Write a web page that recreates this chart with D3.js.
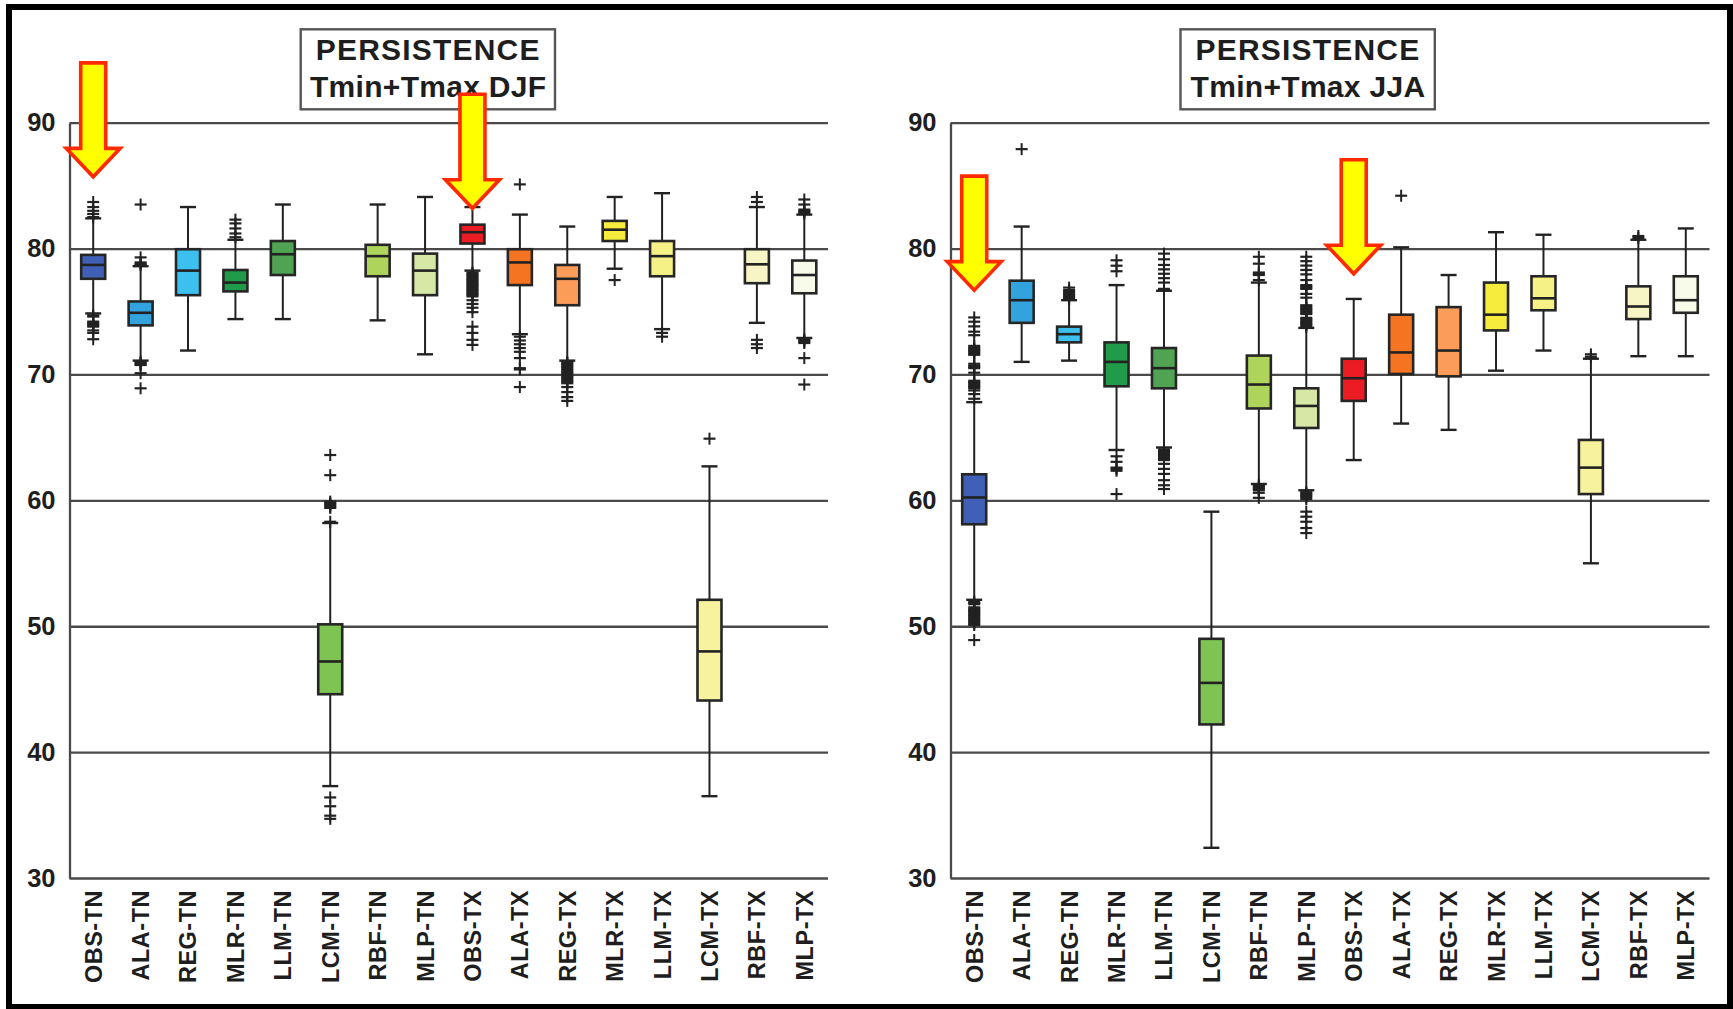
<!DOCTYPE html>
<html><head><meta charset="utf-8">
<script src="https://cdn.jsdelivr.net/npm/d3@7"></script>
<style>
html,body{margin:0;padding:0;background:#fff;}
svg{display:block;}
text{font-family:"Liberation Sans",Arial,sans-serif;font-weight:bold;fill:#1e1e1e;}
</style></head>
<body>
<svg id="chart" width="1733" height="1009"></svg>
<script>
// ---------- DATA ----------
const categories = ["OBS-TN","ALA-TN","REG-TN","MLR-TN","LLM-TN","LCM-TN","RBF-TN","MLP-TN",
                    "OBS-TX","ALA-TX","REG-TX","MLR-TX","LLM-TX","LCM-TX","RBF-TX","MLP-TX"];
const boxColors = ["#3f60b6","#33a3df","#3cc0ef","#1f9b49","#50a352","#7dc453","#aed45b","#d6e7a6",
                   "#ec1c24","#f57421","#fc9c59","#f6ec3d","#f6f187","#f6f29d","#f7f5c5","#f8faea"];
const yTicks = [30,40,50,60,70,80,90];
const panelTitles = [["PERSISTENCE","Tmin+Tmax DJF"],["PERSISTENCE","Tmin+Tmax JJA"]];

// DJF: [whiskerLow, Q1, median, Q3, whiskerHigh]
const djfStats = [
  [74.85,77.6,78.7,79.5,82.4],
  [71.1,73.9,74.9,75.8,78.6],
  [71.9,76.3,78.25,79.95,83.3],
  [74.4,76.6,77.3,78.3,80.7],
  [74.4,77.9,79.55,80.6,83.5],
  [37.3,44.6,47.2,50.15,58.2],
  [74.3,77.8,79.4,80.3,83.5],
  [71.6,76.3,78.25,79.6,84.1],
  [78.25,80.4,81.3,81.9,83.3],
  [73.2,77.1,78.9,79.95,82.7],
  [71.1,75.5,77.6,78.7,81.75],
  [78.4,80.6,81.5,82.2,84.1],
  [73.6,77.8,79.4,80.6,84.4],
  [36.5,44.1,48.0,52.1,62.7],
  [74.1,77.25,78.75,79.95,83.3],
  [72.9,76.45,77.9,79.05,82.7]
];
const djfOutliers = [
  [82.5,82.75,83.0,83.3,83.7,74.7,74.6,74.2,74.1,74.0,73.9,73.8,73.5,73.3,72.8],
  [78.7,78.8,78.9,79.3,83.5,71.0,70.9,70.8,70.75,70.1,68.9],
  [],
  [80.9,81.2,81.6,82.0,82.3],
  [],
  [58.3,59.4,59.5,59.6,59.7,59.8,59.9,62.0,63.6,36.4,35.7,34.95,34.7],
  [],
  [],
  [78.1,78.0,77.9,77.8,77.7,77.6,77.5,77.4,77.3,77.2,77.1,77.0,76.9,76.8,76.7,76.6,76.5,76.4,76.3,76.2,
   75.9,75.6,75.3,74.95,73.8,73.3,72.75,72.35],
  [85.1,73.0,72.7,72.4,72.1,71.8,71.3,70.5,70.4,69.0],
  [71.0,70.9,70.8,70.7,70.6,70.5,70.4,70.3,70.2,70.1,70.0,69.9,69.8,69.7,69.6,69.5,69.4,69.3,
   69.0,68.6,68.2,67.9],
  [77.5],
  [73.3,73.0],
  [64.9],
  [83.7,84.1,72.75,72.4,72.1],
  [82.8,82.9,83.0,83.1,83.5,83.9,72.8,72.7,72.6,72.5,71.3,69.2]
];

// JJA: [whiskerLow, Q1, median, Q3, whiskerHigh]
const jjaStats = [
  [52.1,58.1,60.23,62.07,67.8],
  [71.0,74.1,75.9,77.45,81.75],
  [71.1,72.55,73.2,73.8,75.9],
  [64.0,69.06,71.0,72.55,77.1],
  [64.2,68.9,70.5,72.1,76.65],
  [32.4,42.2,45.5,49.0,59.1],
  [61.3,67.3,69.2,71.5,77.3],
  [60.8,65.75,67.5,68.9,73.7],
  [63.2,67.9,69.7,71.25,76.0],
  [66.1,70.04,71.75,74.75,80.1],
  [65.6,69.85,71.9,75.35,77.9],
  [70.3,73.5,74.75,77.3,81.3],
  [71.9,75.1,76.05,77.8,81.1],
  [55.0,60.5,62.6,64.8,71.25],
  [71.45,74.4,75.4,77.0,80.7],
  [71.45,74.9,75.9,77.8,81.6]
];
const jjaOutliers = [
  [68.07,68.44,68.73,68.9,69.0,69.1,69.2,69.3,69.4,69.5,70.14,70.5,70.6,70.7,70.85,
   71.56,71.65,71.75,71.85,71.95,72.05,72.15,72.27,73.12,73.4,73.82,74.19,74.53,
   51.95,51.85,51.75,51.5,51.4,51.3,51.2,51.1,51.0,50.9,50.8,50.7,50.6,50.5,50.4,50.3,50.2,50.1,48.9],
  [87.9],
  [76.0,76.1,76.2,76.3,76.4,76.5,76.6,76.7,76.9],
  [78.2,78.64,79.07,63.5,63.06,62.6,62.5,62.35,60.5],
  [76.8,77.3,77.65,78.0,78.35,78.7,79.15,79.6,64.05,63.95,63.85,63.75,63.65,63.55,63.45,63.35,63.2,
   62.9,62.5,62.1,61.6,61.2,60.9],
  [],
  [77.5,77.9,78.0,78.1,78.8,79.35,61.2,61.1,61.0,60.9,60.8,60.6,60.2],
  [73.8,73.9,74.0,74.1,74.2,74.3,74.4,74.5,74.8,74.9,75.0,75.1,75.2,75.3,75.4,75.5,
   76.1,76.4,76.8,76.9,77.0,77.1,77.5,77.95,78.3,78.65,79.0,79.35,
   60.65,60.55,60.45,60.35,60.25,60.1,59.1,58.7,58.3,57.8,57.4],
  [],
  [84.2],
  [],
  [],
  [],
  [71.4,71.6],
  [80.85,81.0],
  []
];

// annotation arrows: [category index, value at arrow tip]
const djfArrows = [[0,85.7],[8,83.2]];
const jjaArrows = [[0,76.7],[8,78.0]];

// ---------- DRAW ----------
const svg = d3.select("#chart");
svg.append("rect").attr("width",1733).attr("height",1009).attr("fill","#fff");

const yTop = 122.7, yBottom = 878;
const panels = [
  {x0:69.5, x1:828, stats:djfStats, outl:djfOutliers, arrows:djfArrows, title:panelTitles[0], tbx:300.7},
  {x0:950.5, x1:1709.5, stats:jjaStats, outl:jjaOutliers, arrows:jjaArrows, title:panelTitles[1], tbx:1180.5}
];

const gridColor = "#4a4a4a";
const boxW = 24, capW = 16, crossW = 12;

panels.forEach(p => {
  const x = d3.scalePoint().domain(categories).range([p.x0, p.x1]).padding(0.5);
  const y = d3.scaleLinear().domain([30,90]).range([yBottom, yTop]);
  const g = svg.append("g");

  // grid + y axis
  const ax = g.append("g").attr("transform",`translate(${p.x0},0)`)
    .call(d3.axisLeft(y).tickValues(yTicks).tickSizeInner(-(p.x1-p.x0)).tickSizeOuter(0).tickPadding(14).tickFormat(d3.format("d")));
  ax.select(".domain").attr("stroke",gridColor).attr("stroke-width",2.3);
  ax.selectAll(".tick line").attr("stroke",gridColor).attr("stroke-width",2.3);
  ax.selectAll(".tick text").style("font-size","25.5px").style("font-family","'Liberation Sans',Arial,sans-serif")
    .style("font-weight","bold").attr("fill","#1e1e1e");

  // x labels
  categories.forEach(c => {
    g.append("text")
      .attr("transform",`translate(${x(c)},890) rotate(-90)`)
      .attr("text-anchor","end").attr("dy","0.36em")
      .style("font-size","23.5px").style("letter-spacing","0.5px")
      .text(c);
  });

  // boxes
  categories.forEach((c,i) => {
    const s = p.stats[i], cx = x(c);
    const bg = g.append("g");
    const ln = (x1,y1,x2,y2,w) => bg.append("line").attr("x1",x1).attr("y1",y1).attr("x2",x2).attr("y2",y2)
        .attr("stroke","#222").attr("stroke-width",w||2);
    // whiskers
    ln(cx,y(s[0]),cx,y(s[1]),2);
    ln(cx,y(s[3]),cx,y(s[4]),2);
    ln(cx-capW/2,y(s[0]),cx+capW/2,y(s[0]),2.4);
    ln(cx-capW/2,y(s[4]),cx+capW/2,y(s[4]),2.4);
    // outliers
    p.outl[i].forEach(v => {
      ln(cx-crossW/2,y(v),cx+crossW/2,y(v),2.2);
      ln(cx,y(v)-crossW/2,cx,y(v)+crossW/2,2);
    });
    // box
    bg.append("rect").attr("x",cx-boxW/2).attr("y",y(s[3])).attr("width",boxW).attr("height",y(s[1])-y(s[3]))
      .attr("fill",boxColors[i]).attr("stroke","#262626").attr("stroke-width",2.6);
    ln(cx-boxW/2,y(s[2]),cx+boxW/2,y(s[2]),2.6);
  });

  // title box
  const tb = g.append("g");
  tb.append("rect").attr("x",p.tbx).attr("y",29.3).attr("width",254.3).attr("height",80)
    .attr("fill","#fff").attr("stroke","#555").attr("stroke-width",2.4);
  tb.append("text").attr("x",p.tbx+127.5).attr("y",60).attr("text-anchor","middle")
    .style("font-size","30px").style("letter-spacing","1.2px").text(p.title[0]);
  tb.append("text").attr("x",p.tbx+127.5).attr("y",97.3).attr("text-anchor","middle")
    .style("font-size","30px").style("letter-spacing","0.3px").text(p.title[1]);

  // arrows
  p.arrows.forEach(a => {
    const tx = x(categories[a[0]]), ty = y(a[1]);
    const L = 114, headH = 28.5, shaftW = 25, headW = 54;
    const pts = [
      [tx-shaftW/2, ty-L],[tx+shaftW/2, ty-L],[tx+shaftW/2, ty-headH],[tx+headW/2, ty-headH],
      [tx, ty],[tx-headW/2, ty-headH],[tx-shaftW/2, ty-headH]
    ];
    g.append("path").attr("d", d3.line()(pts)+"Z")
      .attr("fill","#ffff00").attr("stroke","#ff2a00").attr("stroke-width",3.6).attr("stroke-linejoin","miter");
  });
});

// outer frame
svg.append("rect").attr("x",9).attr("y",7).attr("width",1721).attr("height",1000)
  .attr("fill","none").attr("stroke","#000").attr("stroke-width",6);
</script>
</body></html>
